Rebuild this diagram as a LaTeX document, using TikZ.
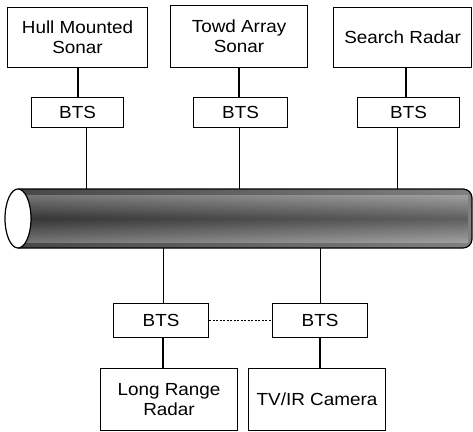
\documentclass[tikz,border=0pt]{standalone}
\usepackage{fontspec}
\setmainfont{Liberation Sans}[FakeStretch=1.08]
\begin{document}
\begin{tikzpicture}[x=1pt,y=-1pt,
  box/.style={draw, line width=1.1pt, inner sep=0pt, align=center, font=\fontsize{17.5}{20}\selectfont, anchor=north west},
  thick link/.style={line width=2.6pt},
  thin link/.style={line width=1pt}]
\useasboundingbox (0,0) rectangle (473,431);
% top devices
\node[box, minimum width=140pt, minimum height=60pt] (hull) at (7,7) {Hull Mounted\\Sonar};
\node[box, minimum width=137pt, minimum height=62pt] (towd) at (170,5) {Towd Array\\Sonar};
\node[box, minimum width=138pt, minimum height=60pt] (search) at (333,7) {Search Radar};
% top BTS
\node[box, minimum width=92pt, minimum height=30pt] (bts1) at (31,97) {BTS};
\node[box, minimum width=94pt, minimum height=30pt] (bts2) at (193,97) {BTS};
\node[box, minimum width=102pt, minimum height=30pt] (bts3) at (357,97) {BTS};
% pipe
\coordinate (pipe1) at (86,189);
\coordinate (pipe2) at (239,189);
\coordinate (pipe3) at (397,189);
\coordinate (pipe4) at (163,248);
\coordinate (pipe5) at (320,248);
\shade[left color=black!72, right color=black!50]
  (18,189) [rounded corners=9pt] -- (472,189) -- (472,248) [sharp corners] -- (18,248) -- cycle;
\shade[top color=black!0, bottom color=black!0, middle color=black, opacity=0.25]
  (18,195) rectangle (468,242);
\draw[line width=1.2pt] (18,189) [rounded corners=9pt] -- (472,189) -- (472,248) [sharp corners] -- (18,248);
\draw[line width=1.2pt, fill=white] (18,218.5) ellipse [x radius=13, y radius=29.5];
% bottom BTS
\node[box, minimum width=95pt, minimum height=34pt] (bts4) at (113,303) {BTS};
\node[box, minimum width=95pt, minimum height=34pt] (bts5) at (272,303) {BTS};
% bottom devices
\node[box, minimum width=137pt, minimum height=62pt] (lrr) at (100,368) {Long Range\\Radar};
\node[box, minimum width=137pt, minimum height=62pt] (tv) at (248,368) {TV/IR Camera};
% connectors
\draw[thick link] (hull.south -| 78,0) -- (bts1.north -| 78,0);
\draw[thick link] (towd.south -| 239,0) -- (bts2.north -| 239,0);
\draw[thick link] (search.south -| 406,0) -- (bts3.north -| 406,0);
\draw[thin link] (bts1.south -| pipe1) -- (pipe1);
\draw[thin link] (bts2.south -| pipe2) -- (pipe2);
\draw[thin link] (bts3.south -| pipe3) -- (pipe3);
\draw[thin link] (pipe4) -- (bts4.north -| pipe4);
\draw[thin link] (pipe5) -- (bts5.north -| pipe5);
\draw[thick link] (bts4.south -| pipe4) -- (lrr.north -| pipe4);
\draw[thick link] (bts5.south -| pipe5) -- (tv.north -| pipe5);
\draw[thin link, dashed, dash pattern=on 2pt off 1.5pt] (bts4.east) -- (bts5.west);
\end{tikzpicture}
\end{document}
